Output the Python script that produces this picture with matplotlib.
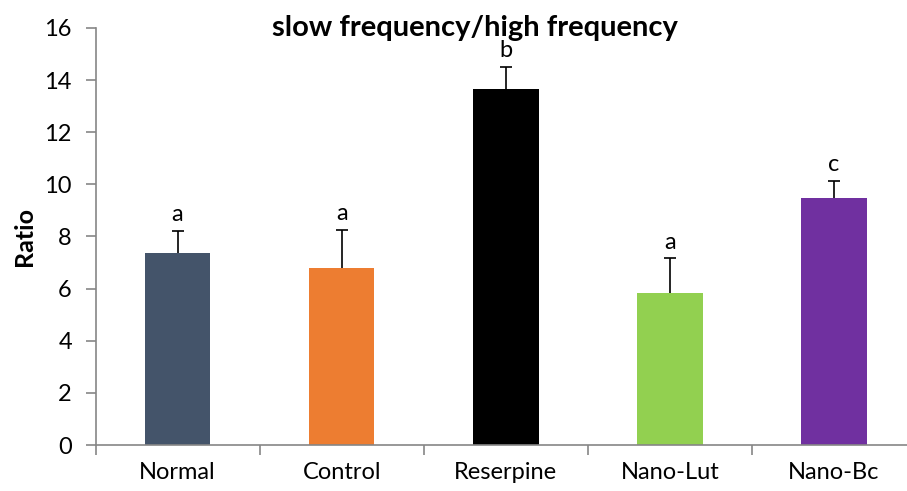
import numpy as np
import matplotlib.pyplot as plt

plt.rcParams['font.family'] = ['Lato', 'DejaVu Sans']

groups = ['Normal', 'Control', 'Reserpine', 'Nano-Lut', 'Nano-Bc']
ratio = [7.38, 6.79, 13.66, 5.82, 9.47]
err = [0.83, 1.46, 0.86, 1.34, 0.67]
letters = ['a', 'a', 'b', 'a', 'c']
colors = ['#44546A', '#ED7D31', '#000000', '#92D050', '#7030A0']

fig = plt.figure(figsize=(9.07, 4.91), dpi=100)
ax = fig.add_axes([95.5 / 907, 1 - 445 / 491, (916 - 95.5) / 907, (445 - 28) / 491])

x = np.arange(len(groups))
ax.bar(x, ratio, width=0.4, color=colors, zorder=2)
# upper-only error bars; the lower half sits behind the bars
ax.errorbar(x, ratio, yerr=err, fmt='none',
            ecolor='black', elinewidth=1.2, capsize=4.5, capthick=1.2, zorder=1)

# significance letters above each error bar
for xi, v, e, s in zip(x, ratio, err, letters):
    ax.text(xi, v + e + 0.22, s, ha='center', va='bottom', fontsize=17)

ax.set_xlim(-0.5, len(groups) - 0.5)
ax.set_ylim(0, 16)
ax.set_yticks(range(0, 17, 2))
ax.set_xticks(x)
ax.set_xticklabels(groups)
ax.set_xticks(np.arange(-0.5, len(groups)), minor=True)

for side in ['top', 'right']:
    ax.spines[side].set_visible(False)
for side in ['left', 'bottom']:
    ax.spines[side].set_color('#868686')
    ax.spines[side].set_linewidth(1.2)

ax.tick_params(axis='y', length=7, width=1.2, color='#868686', labelsize=17, pad=10)
ax.tick_params(axis='x', which='major', length=0, labelsize=17, pad=12)
ax.tick_params(axis='x', which='minor', length=7, width=1.2, color='#868686')

ax.set_ylabel('Ratio', fontsize=18, fontweight='bold', labelpad=6)
fig.text(475 / 907, 1 - 28 / 491, 'slow frequency/high frequency',
         ha='center', va='center', fontsize=21, fontweight='bold')

fig.savefig('out.png', dpi=100)
